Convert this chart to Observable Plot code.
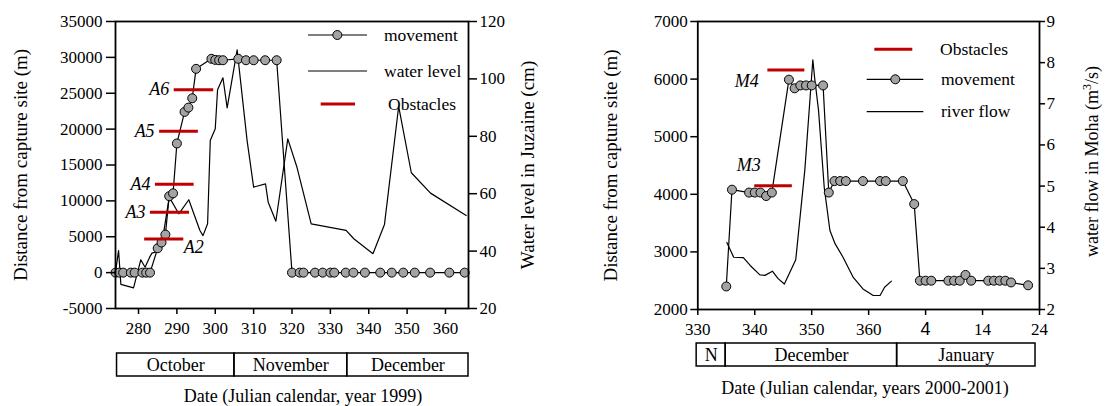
<!DOCTYPE html>
<html><head><meta charset="utf-8">
<script src="https://cdn.jsdelivr.net/npm/d3@7"></script>
<script src="https://cdn.jsdelivr.net/npm/@observablehq/plot@0.6"></script>
<style>
html,body{margin:0;padding:0;background:#fff;}
#wrap{position:relative;width:1107px;height:406px;overflow:hidden;background:#fff;font-family:"Liberation Serif","Times New Roman",serif;}
.xt{position:absolute;text-align:center;font-size:18px;line-height:16px;white-space:nowrap;color:#000;}
</style></head>
<body><div id="wrap"></div>
<script>
// ---------- Left panel data (1999) ----------
const movDayL  = [274,275,276,278,279,281,282,283,285,286,287,288,289,290,292,293,294,295,299,300,301,302,306,308,310,313,316,320,322,323,326,328,330,331,334,336,339,343,346,349,352,356,361,365];
const movDistL = [0,0,0,0,0,0,0,0,3400,4200,5300,10650,11050,18000,22400,23000,24300,28400,29800,29650,29600,29600,29800,29600,29600,29600,29600,0,0,0,0,0,0,0,0,0,0,0,0,0,0,0,0,0];
const wlDayL = [274,274.8,275.4,278.7,280.6,281.7,282.9,283.5,285.2,286.5,288,290.5,293.1,296,296.8,298,298.7,300,300.6,302,303.1,305.7,308.3,310,313.1,313.8,315.8,318.9,321.3,325,334.1,336.1,341.1,344.1,347.8,351.1,356.1,365.4];
const wlCmL  = [32.7,40.2,28.4,27.2,37,34.4,37.9,39.3,40,46,58.8,53,57.9,47.2,45.4,49.5,78.5,82.6,96.2,100.4,89.9,110.1,78.5,62.3,63.4,57,50.4,79.1,69.2,49.5,47.2,44.3,39.1,49.3,90.4,67.3,60.2,52.4];
const obsNamesL = ["A2","A3","A4","A5","A6"];
const obsStartL = [281.6,283.1,284.4,285.5,289.3];
const obsEndL   = [291.8,293.3,294.5,295.6,299.6];
const obsDistL  = [4700,8400,12300,19700,25500];
const distTicksL = [-5000,0,5000,10000,15000,20000,25000,30000,35000];
const cmTicksL = [20,40,60,80,100,120];
const dayTicksL = [280,290,300,310,320,330,340,350,360];
const monthNamesL = ["October","November","December"];
const monthStartL = [274.4,305,334.4];
const monthEndL   = [305,334.4,366];

// ---------- Right panel data (2000-2001) ----------
const movDayR  = [335,336,339,340,341,342,343,346,347,348,349,350,352,353,354,355,356,359,362,363,366,368,369,370,371,374,375,376,377,378,381,382,383,384,385,388];
const movDistR = [2400,4080,4030,4030,4030,3970,4030,5990,5840,5890,5890,5890,5890,4030,4230,4230,4230,4230,4230,4230,4230,3830,2500,2500,2500,2500,2500,2500,2600,2500,2500,2500,2500,2500,2470,2420];
const flowDayR = [335.1,336.3,338,339.2,340.9,341.8,343.1,344.1,345.2,347.2,348.8,350.2,350.5,351.2,352.2,353.2,354.1,355.5,357.3,359,360.8,362,362.8,364];
const flowR    = [3.63,3.27,3.26,3.07,2.84,2.83,2.93,2.75,2.62,3.21,5.4,8.07,7.65,6.84,4.97,3.92,3.6,3.27,2.78,2.5,2.34,2.34,2.54,2.69];
const obsNamesR = ["M3","M4"];
const obsStartR = [340,342.3];
const obsEndR   = [346.6,348.8];
const obsDistR  = [4150,6160];
const distTicksR = [2000,3000,4000,5000,6000,7000];
const flowTicksR = [2,3,4,5,6,7,8,9];
const dayTicksR = [330,340,350,360,370,380,390];
const monthNamesR = ["N","December","January"];
const monthStartR = [329.8,334.9,365];
const monthEndR   = [334.9,365,389.3];

// ---------- helpers ----------
const FONT = '"Liberation Serif","Times New Roman",serif';
const RED = "#c00000", GREY = "#a3a3a3";
const wrap = document.getElementById("wrap");
function place(node, left, top){ node.style.position="absolute"; node.style.left=left+"px"; node.style.top=top+"px"; wrap.appendChild(node); }
const baseStyle = {fontFamily: FONT, fontSize: "17px", background: "transparent", overflow: "visible", color: "black"};

// ---------- Left main plot ----------
const toDistL = cm => -5000 + (cm - 20) * 400;
const fromDistL = d => (d + 5000) / 400 + 20;
const movL = movDayL.map((d,i)=>({day:d, dist:movDistL[i]}));
const wlL = wlDayL.map((d,i)=>({day:d, dist:toDistL(wlCmL[i])}));
const obsL = obsNamesL.map((n,i)=>({name:n, x1:obsStartL[i], x2:obsEndL[i], dist:obsDistL[i]}));

const leftPlot = Plot.plot({
  width: 580, height: 345, marginLeft: 115, marginRight: 112, marginTop: 21, marginBottom: 37,
  style: baseStyle,
  x: {domain: [274, 366]},
  y: {domain: [-5000, 35000]},
  marks: [
    Plot.line(wlL, {x:"day", y:"dist", stroke:"black", strokeWidth:1.2}),
    Plot.line(movL, {x:"day", y:"dist", stroke:"black", strokeWidth:1.2}),
    Plot.dot(movL, {x:"day", y:"dist", r:4.5, fill:GREY, stroke:"black", strokeWidth:1}),
    Plot.ruleY(obsL, {x1:"x1", x2:"x2", y:"dist", stroke:RED, strokeWidth:3}),
    Plot.text(obsL.filter(d=>d.name!=="A2"), {x:"x1", y:"dist", text:"name", textAnchor:"end", dx:-5, fontStyle:"italic", fontSize:18}),
    Plot.text(obsL.filter(d=>d.name==="A2"), {x:"x2", y:"dist", text:"name", textAnchor:"start", dx:0, dy:8, fontStyle:"italic", fontSize:18}),
    Plot.frame({stroke:"black", strokeWidth:1.8}),
    Plot.axisY(distTicksL, {anchor:"left", tickSize:9, tickPadding:4, strokeWidth:1.5, tickFormat:d=>String(d), label:null}),
    Plot.axisY(cmTicksL.map(toDistL), {anchor:"right", tickSize:8, tickPadding:3, strokeWidth:1.5, tickFormat:d=>String(Math.round(fromDistL(d))), label:null}),
    Plot.axisX(dayTicksL, {anchor:"bottom", tickSize:6, tickPadding:7, strokeWidth:1.5, tickFormat:d=>String(d), label:null}),
    Plot.text(["Distance from capture site (m)"], {frameAnchor:"left", textAnchor:"middle", lineAnchor:"middle", dx:-95, rotate:-90, fontSize:19}),
    Plot.text(["Water level in Juzaine (cm)"], {frameAnchor:"right", textAnchor:"middle", lineAnchor:"middle", dx:59, rotate:-90, fontSize:19})
  ]
});
place(leftPlot, 0, 0);

// ---------- Right main plot ----------
const toDistR = f => 2000 + (f - 2) * 5000 / 7;
const fromDistR = d => (d - 2000) * 7 / 5000 + 2;
const movR = movDayR.map((d,i)=>({day:d, dist:movDistR[i]}));
const flR = flowDayR.map((d,i)=>({day:d, dist:toDistR(flowR[i])}));
const obsR = obsNamesR.map((n,i)=>({name:n, x1:obsStartR[i], x2:obsEndR[i], dist:obsDistR[i]}));

const rightPlot = Plot.plot({
  width: 527, height: 345, marginLeft: 117.3, marginRight: 68, marginTop: 21, marginBottom: 36,
  style: baseStyle,
  x: {domain: [330, 390]},
  y: {domain: [2000, 7000]},
  marks: [
    Plot.line(flR, {x:"day", y:"dist", stroke:"black", strokeWidth:1.2}),
    Plot.line(movR, {x:"day", y:"dist", stroke:"black", strokeWidth:1.2}),
    Plot.dot(movR, {x:"day", y:"dist", r:4.5, fill:GREY, stroke:"black", strokeWidth:1}),
    Plot.ruleY(obsR, {x1:"x1", x2:"x2", y:"dist", stroke:RED, strokeWidth:3}),
    Plot.text(obsR.filter(d=>d.name==="M4"), {x:"x1", y:"dist", text:"name", textAnchor:"end", dx:-9, dy:11, fontStyle:"italic", fontSize:18}),
    Plot.text(obsR.filter(d=>d.name==="M3"), {x:"x1", y:"dist", text:"name", textAnchor:"end", dx:6, dy:-20, fontStyle:"italic", fontSize:18}),
    Plot.frame({stroke:"black", strokeWidth:1.8}),
    Plot.axisY(distTicksR, {anchor:"left", tickSize:7, tickPadding:3, strokeWidth:1.5, tickFormat:d=>String(d), label:null}),
    Plot.axisY(flowTicksR.map(toDistR), {anchor:"right", tickSize:5, tickPadding:2, strokeWidth:1.5, tickFormat:d=>String(Math.round(fromDistR(d))), label:null}),
    Plot.axisX(dayTicksR, {anchor:"bottom", tickSize:6, tickPadding:7, strokeWidth:1.5, tickFormat:d=>String(d > 366 ? d - 366 : d), label:null}),
    Plot.text(["Distance from capture site (m)"], {frameAnchor:"left", textAnchor:"middle", lineAnchor:"middle", dx:-87.3, rotate:-90, fontSize:19}),
    Plot.text(["water flow in Moha (m³/s)"], {frameAnchor:"right", textAnchor:"middle", lineAnchor:"middle", dx:53, dy:-4, rotate:-90, fontSize:18})
  ]
});
place(rightPlot, 580, 0);
d3.select(rightPlot).selectAll('g[aria-label="x-axis tick label"] text')
  .filter(function(){ return this.textContent.trim()==="4"; })
  .style("font-family", '"Liberation Sans", Arial, sans-serif').style("font-size", "18px");
// superscript 3 in the flow label
d3.select(rightPlot).selectAll("text")
  .filter(function(){ return this.textContent === "water flow in Moha (m³/s)"; })
  .each(function(){
    const t = d3.select(this);
    t.text("water flow in Moha (m");
    t.append("tspan").attr("baseline-shift","super").attr("font-size","12px").text("3");
    t.append("tspan").text("/s)");
  });

// ---------- Month boxes ----------
function monthBox(names, starts, ends, domain, width, mL, mR){
  const months = names.map((n,i)=>({name:n, start:starts[i], end:ends[i]}));
  return Plot.plot({
    width, height: 27, marginLeft: mL, marginRight: mR, marginTop: 2, marginBottom: 2,
    style: baseStyle,
    x: {domain, axis: null},
    marks: [
      Plot.rect(months, {x1:"start", x2:"end", stroke:"black", fill:"none", strokeWidth:1.5}),
      Plot.text(months, {x: d => (d.start + d.end) / 2, text:"name", fontSize:18})
    ]
  });
}
place(monthBox(monthNamesL, monthStartL, monthEndL, [274,366], 580, 115, 112), 0, 351);
place(monthBox(monthNamesR, monthStartR, monthEndR, [330,390], 527, 117.3, 68), 580, 341);

// ---------- x titles ----------
function title(txt, cx, cy){ const d=document.createElement("div"); d.className="xt"; d.textContent=txt; d.style.width="400px"; place(d, cx-200, cy-8); }
title("Date (Julian calendar, year 1999)", 303, 396);
title("Date (Julian calendar, years 2000-2001)", 865, 388);

// ---------- legends ----------
const lg = d3.create("svg").attr("width",1107).attr("height",406)
  .style("pointer-events","none").style("font-family",FONT).style("font-size","17.5px");
function legLine(x1,x2,y,color,w){ lg.append("line").attr("x1",x1).attr("x2",x2).attr("y1",y).attr("y2",y).attr("stroke",color).attr("stroke-width",w); }
function legDot(cx,cy){ lg.append("circle").attr("cx",cx).attr("cy",cy).attr("r",4.5).attr("fill",GREY).attr("stroke","black"); }
function legText(x,y,t){ lg.append("text").attr("x",x).attr("y",y).attr("dy","0.32em").text(t); }
// left
legLine(308,367,35,"black",1.2); legDot(337.3,35); legText(384,35,"movement");
legLine(308,367,71,"black",1.2); legText(384,71,"water level");
legLine(320.7,355,104,RED,3); legText(388,104,"Obstacles");
// right
legLine(874.3,912.3,49.3,RED,3); legText(940,49.3,"Obstacles");
legLine(866.7,923.3,79.3,"black",1.2); legDot(895.3,79.3); legText(941,79.3,"movement");
legLine(866.7,923.3,111.7,"black",1.2); legText(941,111.7,"river flow");
place(lg.node(), 0, 0);
</script>
</body></html>
